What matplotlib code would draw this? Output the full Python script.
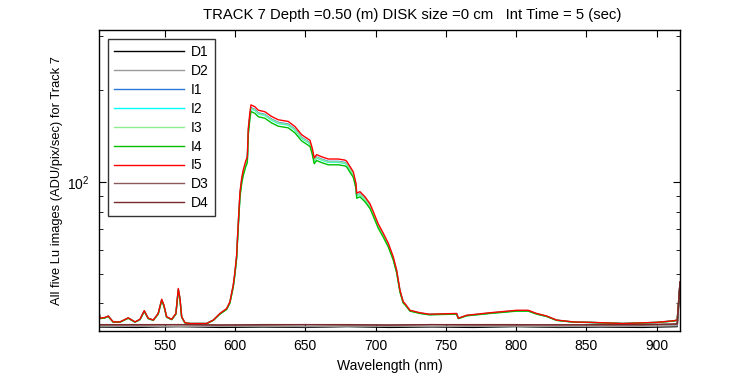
import matplotlib
matplotlib.use("Agg")
import matplotlib.pyplot as plt
from matplotlib.ticker import LogLocator, NullFormatter, FixedLocator

plt.rcParams["font.family"] = ["Liberation Sans", "DejaVu Sans"]
plt.rcParams["mathtext.fontset"] = "custom"
plt.rcParams["mathtext.rm"] = "Liberation Sans"

# ---------- data ----------
# I5 (red, top light curve)
light_wl = [503.3, 504.0, 507.5, 509.9, 513.4, 518.2, 524.1, 528.9, 532.4, 535.5,
            538.3, 541.9, 545.4, 547.9, 549.5, 551.4, 555.0, 558.0, 559.7, 560.9,
            562.1, 564.4, 568.0, 579.9, 584.6, 589.3, 594.1, 596.4, 598.8, 600.0,
            601.2, 601.9, 602.8, 603.6, 604.8, 605.9, 607.6, 608.8, 609.5, 610.7,
            611.4, 614.2, 616.6, 621.3, 626.1, 630.8, 637.9, 642.7, 647.4, 653.4,
            655.0, 656.4, 658.1, 661.7, 666.4, 673.5, 678.3, 679.5, 684.2, 686.1,
            686.6, 688.9, 692.5, 696.0, 698.4, 701.9, 705.5, 709.1, 712.6, 715.0,
            717.4, 719.7, 720.9, 724.5, 731.6, 738.2, 757.7, 758.9, 764.8, 781.4,
            800.4, 808.6, 814.6, 821.7, 828.8, 840.7, 852.5, 876.2, 900.0, 911.8,
            914.6, 916.6]
i5 = [37.6, 35.8, 36.0, 36.4, 34.8, 34.8, 35.9, 34.8, 35.5, 37.9,
      35.8, 35.3, 37.1, 41.3, 39.5, 36.2, 35.5, 37.1, 44.8, 41.6,
      36.2, 34.6, 34.4, 34.4, 35.3, 37.1, 38.5, 40.5, 46.0, 50.8,
      57.6, 67.0, 80.0, 93.0, 103.0, 109.5, 117.0, 121.0, 150.0, 170.0,
      179.0, 176.5, 172.0, 170.0, 164.0, 160.0, 158.0, 152.0, 143.0, 137.0,
      129.0, 120.0, 123.0, 121.0, 119.0, 119.0, 118.0, 117.0, 108.0, 99.0,
      92.0, 93.0, 89.5, 85.0, 80.0, 73.0, 68.0, 63.0, 56.9, 51.5,
      44.2, 40.5, 40.0, 38.0, 37.3, 36.9, 37.1, 35.8, 36.6, 37.3,
      38.0, 38.0, 37.1, 36.4, 35.3, 34.8, 34.7, 34.4, 34.7, 35.1,
      35.3, 47.0]
# I1..I4 sit a little under I5: share of I5's signal above the dark level
dark_level = 34.0
i_ratio = {"I1": 0.975, "I2": 0.965, "I3": 0.97, "I4": 0.94, "I5": 1.0}

# dark frames
dark_wl = [503.3, 530, 560, 590, 620, 650, 680, 710, 740, 770, 800, 830, 860, 890, 914.6, 916.6]
d1 = [33.5, 33.4, 33.6, 33.4, 33.5, 33.4, 33.6, 33.4, 33.5, 33.4, 33.6, 33.4, 33.5, 33.4, 33.6, 46.0]
d2 = [33.7, 33.7, 33.6, 33.7, 33.7, 33.6, 33.7, 33.7, 33.6, 33.7, 33.7, 33.6, 33.7, 33.7, 33.8, 46.0]
d3 = [34.0, 34.0, 34.1, 34.0, 34.0, 34.1, 34.0, 34.0, 34.1, 34.0, 34.0, 34.1, 34.0, 34.0, 34.2, 47.0]
d4 = [34.1, 34.1, 34.1, 34.0, 34.1, 34.1, 34.1, 34.0, 34.1, 34.1, 34.1, 34.0, 34.1, 34.1, 34.3, 47.0]

colors = {
    "D1": "#000000", "D2": "#999999", "I1": "#2a78d6", "I2": "#00ffff",
    "I3": "#90ee90", "I4": "#00c000", "I5": "#ff0000", "D3": "#8a5a5a",
    "D4": "#7a2a2a",
}

FS = 10

# ---------- plot ----------
fig = plt.figure(figsize=(7.5, 3.75), dpi=100)
ax = fig.add_axes([0.132, 0.1173, 0.7747, 0.8027])

ax.plot(dark_wl, d1, color=colors["D1"], lw=1, label="D1")
ax.plot(dark_wl, d2, color=colors["D2"], lw=1, label="D2")
for name in ["I1", "I2", "I3", "I4", "I5"]:
    ys = [dark_level + (v - dark_level) * i_ratio[name] for v in i5]
    ax.plot(light_wl, ys, color=colors[name], lw=1, label=name)
ax.plot(dark_wl, d3, color=colors["D3"], lw=1, label="D3")
ax.plot(dark_wl, d4, color=colors["D4"], lw=1, label="D4")

ax.set_yscale("log")
ax.set_xlim(503.3, 916.6)
ax.set_ylim(32.5, 315)
ax.xaxis.set_major_locator(FixedLocator([550, 600, 650, 700, 750, 800, 850, 900]))
ax.yaxis.set_major_locator(LogLocator(base=10))
ax.yaxis.set_minor_locator(LogLocator(base=10, subs=range(2, 10)))
ax.yaxis.set_minor_formatter(NullFormatter())

ax.tick_params(which="both", direction="in", top=True, right=True, labelsize=FS)
ax.tick_params(which="major", length=5, pad=6)
ax.tick_params(which="minor", length=3)
ax.tick_params(axis="y", pad=7)
for s in ax.spines.values():
    s.set_linewidth(1)

ax.set_xlabel("Wavelength (nm)", fontsize=FS, labelpad=4)
ax.set_ylabel("All five Lu images (ADU/pix/sec) for Track 7", fontsize=9.3, labelpad=3)
ax.set_title("TRACK 7 Depth =0.50 (m) DISK size =0 cm   Int Time = 5 (sec)",
             fontsize=10.7, pad=8, x=0.539)

leg = ax.legend(loc="upper left", fontsize=FS, fancybox=False, edgecolor="black",
                handlelength=5.0, labelspacing=0.35, borderaxespad=0.65,
                borderpad=0.45, handletextpad=0.5)
leg.get_frame().set_linewidth(1)

fig.savefig("out.png", dpi=100)
